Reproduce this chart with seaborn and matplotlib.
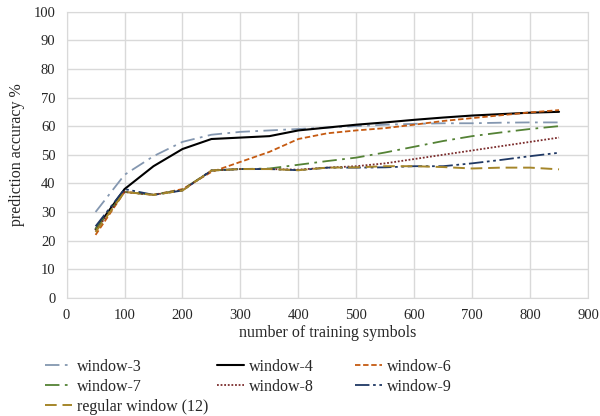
import seaborn as sns
import matplotlib.pyplot as plt
import pandas as pd

symbols = [50, 100, 150, 200, 250, 300, 350, 400, 450, 500, 550, 600, 650, 700, 750, 800, 850]

window_3 = [30, 43, 49.5, 54.5, 57, 58, 58.5, 59, 59.5, 60, 60.5, 60.8, 61, 61, 61.2, 61.3, 61.3]
window_4 = [24, 38, 46, 52, 55.5, 56, 56.5, 58.5, 59.5, 60.5, 61.3, 62.2, 63, 63.7, 64.2, 64.7, 65]
window_6 = [22, 37, 36, 38, 44, 47.5, 51, 55.5, 57.5, 58.5, 59.3, 60.5, 61.8, 62.8, 63.8, 64.8, 65.6]
window_7 = [24, 37, 36, 37.8, 44.5, 45, 45.2, 46.5, 47.8, 49, 50.8, 52.8, 54.8, 56.5, 57.8, 59, 60]
window_8 = [23.5, 37, 36, 37.6, 44.5, 45, 45, 44.8, 45.5, 46, 47, 48.5, 50, 51.5, 53, 54.5, 56]
window_9 = [25, 38, 36, 37.5, 44.5, 45, 45, 44.6, 45.5, 45.5, 45.6, 46, 46, 47, 48.2, 49.5, 50.7]
regular_12 = [23, 37, 36, 37.5, 44.5, 45, 45, 44.6, 45.5, 45.6, 46, 46, 45.7, 45.2, 45.5, 45.5, 44.9]

series = [
    ("window-3", window_3, "#8497b0", (0, (8, 3, 1.5, 3)), 1.3),
    ("window-4", window_4, "#000000", "-", 1.5),
    ("window-6", window_6, "#c55a11", (0, (3, 1.5)), 1.3),
    ("window-7", window_7, "#548235", (0, (8, 3, 1.5, 3)), 1.3),
    ("window-8", window_8, "#7b2c2c", (0, (1, 1)), 1.3),
    ("window-9", window_9, "#1f3864", (0, (8, 2, 1.5, 2, 1.5, 2)), 1.3),
    ("regular window (12)", regular_12, "#a5862a", (0, (6, 3)), 1.4),
]

sns.set_style("white")
plt.rcParams["font.family"] = ["Liberation Serif", "DejaVu Serif"]

fig = plt.figure(figsize=(6, 4.16), dpi=100)
ax = fig.add_axes([0.111, 0.284, 0.869, 0.688])

handles = {}
for name, vals, color, ls, lw in series:
    df = pd.DataFrame({"x": symbols, "y": vals})
    sns.lineplot(data=df, x="x", y="y", ax=ax, color=color, linewidth=lw)
    line = ax.lines[-1]
    line.set_linestyle(ls)
    handles[name] = line

ax.set_xlim(0, 900)
ax.set_ylim(0, 100)
ax.set_xticks(range(0, 901, 100))
ax.set_yticks(range(0, 101, 10))
ax.grid(True, color="#d9d9d9", linewidth=1)
for s in ax.spines.values():
    s.set_color("#d9d9d9")
ax.tick_params(length=0, labelsize=10.5, pad=8)
ax.set_xlabel("number of training symbols", fontsize=11.5, labelpad=2)
ax.set_ylabel("prediction accuracy %", fontsize=11.5, labelpad=6)

# Excel-style legend: three fixed-width columns, filled row by row
columns = [
    (["window-3", "window-7", "regular window (12)"], 0.075),
    (["window-4", "window-8"], 0.362),
    (["window-6", "window-9"], 0.592),
]
for names, xpos in columns:
    fig.legend([handles[n] for n in names], names, loc="upper left",
               bbox_to_anchor=(xpos, 0.137), frameon=False, fontsize=11.5,
               handlelength=1.7, handletextpad=0.3, labelspacing=0.25,
               borderaxespad=0, borderpad=0)

fig.savefig("out.png", dpi=100)
